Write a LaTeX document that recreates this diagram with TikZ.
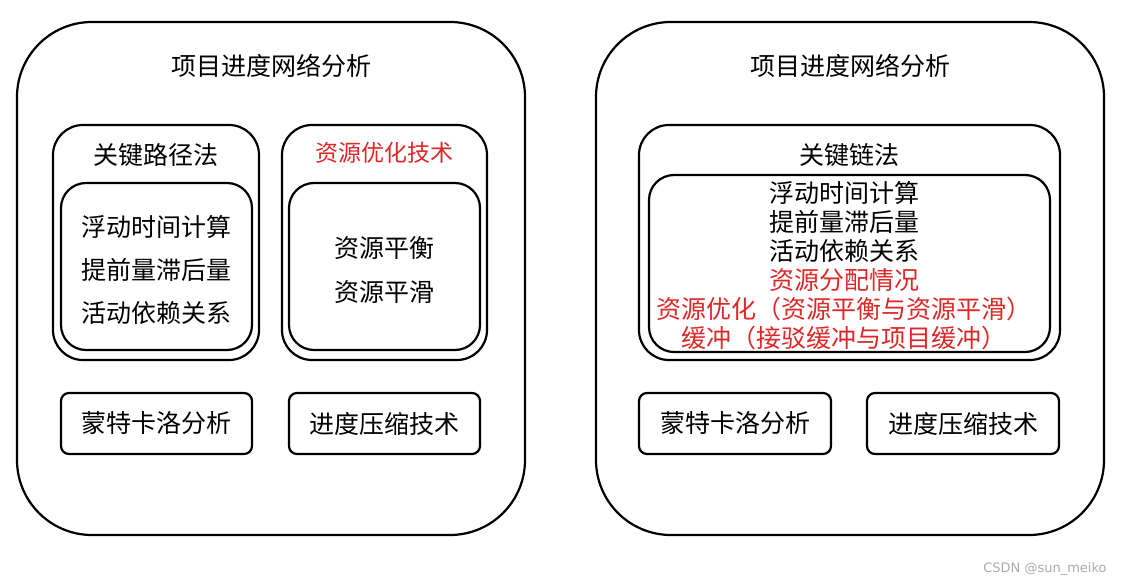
\documentclass[tikz,border=0pt]{standalone}
\usepackage{fontspec}
\newfontfamily\cjk{Noto Sans CJK SC}
\definecolor{cred}{RGB}{222,40,40}
\definecolor{wm}{RGB}{170,170,170}
\begin{document}
\begin{tikzpicture}[x=1pt,y=-1pt,
  box/.style={draw=black,line width=2.2pt,rounded corners=#1,inner sep=0pt},
  txt/.style={font=\cjk\fontsize{25}{29}\selectfont,inner sep=0pt,align=center},
  stxt/.style={font=\cjk\fontsize{23}{26}\selectfont,inner sep=0pt,text=cred}]
\useasboundingbox (0,0) rectangle (1124,585);
% left panel
\node[box=75pt,minimum width=508pt,minimum height=513pt] (L) at (271,278.5) {};
\node[txt] (Lt) at (271,66) {项目进度网络分析};
\node[box=30pt,minimum width=206pt,minimum height=235pt] (cpm) at (156,242.5) {};
\node[txt] (cpmt) at (156,155) {关键路径法};
\node[box=25pt,minimum width=191pt,minimum height=167pt] (cpmi) at (156.5,266.5) {};
\node[txt] (c1) at (156.5,227) {浮动时间计算};
\node[txt] (c2) at (156.5,270) {提前量滞后量};
\node[txt] (c3) at (156.5,313) {活动依赖关系};
\node[box=30pt,minimum width=205pt,minimum height=235pt] (res) at (384.5,242.5) {};
\node[stxt] (rest) at (384.5,153) {资源优化技术};
\node[box=25pt,minimum width=191pt,minimum height=167pt] (resi) at (384.5,266.5) {};
\node[txt] (r1) at (384.5,248) {资源平衡};
\node[txt] (r2) at (384.5,292) {资源平滑};
\node[box=8pt,minimum width=191pt,minimum height=61pt] (mc) at (156.5,423.5) {};
\node[txt] (mct) at (156.5,423.5) {蒙特卡洛分析};
\node[box=8pt,minimum width=191pt,minimum height=61pt] (cr) at (384.5,423.5) {};
\node[txt] (crt) at (384.5,423.5) {进度压缩技术};
% right panel
\node[box=75pt,minimum width=508pt,minimum height=513pt] (R) at (850,278.5) {};
\node[txt] (Rt) at (850,66) {项目进度网络分析};
\node[box=30pt,minimum width=421pt,minimum height=235pt] (ccpm) at (849.5,242.5) {};
\node[txt] (ccpmt) at (849.5,155) {关键链法};
\node[box=25pt,minimum width=401pt,minimum height=177pt] (ccpmi) at (849.5,263.5) {};
\node[txt] (cc) at (844,266) {浮动时间计算\\提前量滞后量\\活动依赖关系\\\textcolor{cred}{资源分配情况}\\\textcolor{cred}{资源优化（资源平衡与资源平滑）}\\\textcolor{cred}{缓冲（接驳缓冲与项目缓冲）}};
\node[box=8pt,minimum width=192pt,minimum height=61pt] (mc2) at (735,423.5) {};
\node[txt] (mc2t) at (735,423.5) {蒙特卡洛分析};
\node[box=8pt,minimum width=192pt,minimum height=61pt] (cr2) at (963,423.5) {};
\node[txt] (cr2t) at (963,423.5) {进度压缩技术};
\node[font=\fontspec{DejaVu Sans}\fontsize{13}{15}\selectfont,text=wm,inner sep=0pt] (wmk) at (1045,569) {CSDN @sun\_meiko};
\end{tikzpicture}
\end{document}
